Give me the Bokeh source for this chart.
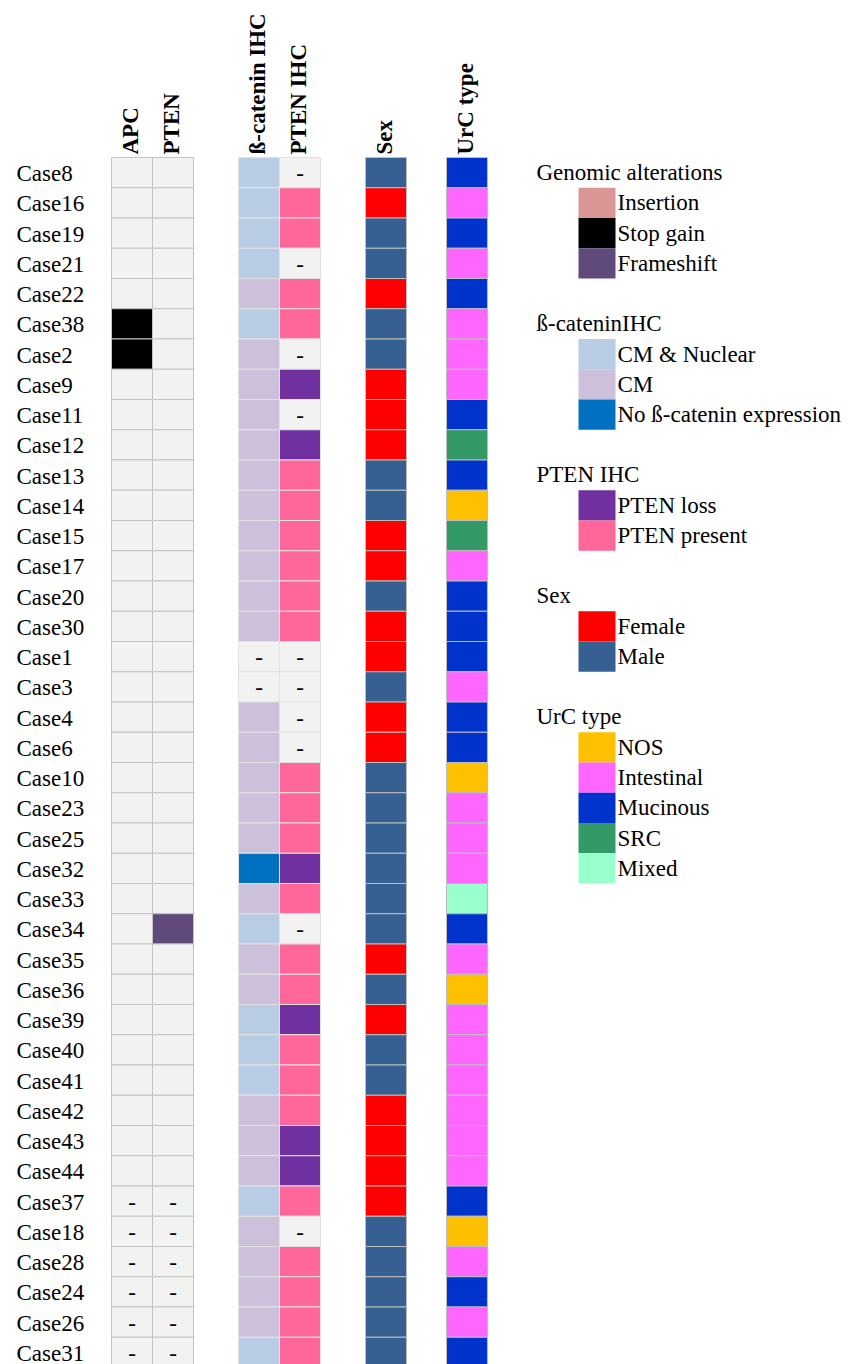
import math
from bokeh.plotting import figure
from bokeh.models import ColumnDataSource, Range1d
from bokeh.core.properties import value
from bokeh.embed import file_html
from bokeh.resources import INLINE

# ---------------- data ----------------
cases = ["Case8", "Case16", "Case19", "Case21", "Case22", "Case38", "Case2", "Case9",
         "Case11", "Case12", "Case13", "Case14", "Case15", "Case17", "Case20", "Case30",
         "Case1", "Case3", "Case4", "Case6", "Case10", "Case23", "Case25", "Case32",
         "Case33", "Case34", "Case35", "Case36", "Case39", "Case40", "Case41", "Case42",
         "Case43", "Case44", "Case37", "Case18", "Case28", "Case24", "Case26", "Case31"]

apc = ["", "", "", "", "", "Stop gain", "Stop gain", "", "", "", "", "", "", "", "", "",
       "", "", "", "", "", "", "", "", "", "", "", "", "", "", "", "", "", "",
       "-", "-", "-", "-", "-", "-"]
pten = ["", "", "", "", "", "", "", "", "", "", "", "", "", "", "", "",
        "", "", "", "", "", "", "", "", "", "Frameshift", "", "", "", "", "", "", "", "",
        "-", "-", "-", "-", "-", "-"]
bcat_ihc = ["CM & Nuclear", "CM & Nuclear", "CM & Nuclear", "CM & Nuclear", "CM",
            "CM & Nuclear", "CM", "CM", "CM", "CM", "CM", "CM", "CM", "CM", "CM", "CM",
            "-", "-", "CM", "CM", "CM", "CM", "CM", "No ß-catenin expression", "CM",
            "CM & Nuclear", "CM", "CM", "CM & Nuclear", "CM & Nuclear", "CM & Nuclear",
            "CM", "CM", "CM", "CM & Nuclear", "CM", "CM", "CM", "CM", "CM & Nuclear"]
pten_ihc = ["-", "PTEN present", "PTEN present", "-", "PTEN present", "PTEN present", "-",
            "PTEN loss", "-", "PTEN loss", "PTEN present", "PTEN present", "PTEN present",
            "PTEN present", "PTEN present", "PTEN present", "-", "-", "-", "-",
            "PTEN present", "PTEN present", "PTEN present", "PTEN loss", "PTEN present", "-",
            "PTEN present", "PTEN present", "PTEN loss", "PTEN present", "PTEN present",
            "PTEN present", "PTEN loss", "PTEN loss", "PTEN present", "-", "PTEN present",
            "PTEN present", "PTEN present", "PTEN present"]
sex = ["Male", "Female", "Male", "Male", "Female", "Male", "Male", "Female", "Female",
       "Female", "Male", "Male", "Female", "Female", "Male", "Female", "Female", "Male",
       "Female", "Female", "Male", "Male", "Male", "Male", "Male", "Male", "Female", "Male",
       "Female", "Male", "Male", "Female", "Female", "Female", "Female", "Male", "Male",
       "Male", "Male", "Male"]
urc_type = ["Mucinous", "Intestinal", "Mucinous", "Intestinal", "Mucinous", "Intestinal",
            "Intestinal", "Intestinal", "Mucinous", "SRC", "Mucinous", "NOS", "SRC",
            "Intestinal", "Mucinous", "Mucinous", "Mucinous", "Intestinal", "Mucinous",
            "Mucinous", "NOS", "Intestinal", "Intestinal", "Intestinal", "Mixed", "Mucinous",
            "Intestinal", "NOS", "Intestinal", "Intestinal", "Intestinal", "Intestinal",
            "Intestinal", "Intestinal", "Mucinous", "NOS", "Intestinal", "Mucinous",
            "Intestinal", "Mucinous"]

column_labels = ["APC", "PTEN", "ß-catenin IHC", "PTEN IHC", "Sex", "UrC type"]

legend_titles = ["Genomic alterations", "ß-cateninIHC", "PTEN IHC", "Sex", "UrC type"]
legend_items = [["Insertion", "Stop gain", "Frameshift"],
                ["CM & Nuclear", "CM", "No ß-catenin expression"],
                ["PTEN loss", "PTEN present"],
                ["Female", "Male"],
                ["NOS", "Intestinal", "Mucinous", "SRC", "Mixed"]]

# ---------------- styles ----------------
colors = {
    "": "#f2f2f2", "-": "#f2f2f2",
    "Insertion": "#da9694", "Stop gain": "#000000", "Frameshift": "#604a7b",
    "CM & Nuclear": "#b8cce4", "CM": "#ccc0da", "No ß-catenin expression": "#0070c0",
    "PTEN loss": "#7030a0", "PTEN present": "#ff6699",
    "Female": "#ff0000", "Male": "#366092",
    "NOS": "#ffc000", "Intestinal": "#ff66ff", "Mucinous": "#0033cc",
    "SRC": "#339966", "Mixed": "#99ffcc",
}
col_left = [111, 152, 238, 279, 365, 446]
col_w = 41
col_line = ["#c3c3c3", "#c3c3c3", "#e2e2e2", "#e2e2e2", "#bdbdbd", "#bdbdbd"]
FONT = value("Liberation Serif, Times New Roman, serif")
W, H = 850, 1364
ROW0, PITCH = 157.0, 30.25   # page pixels of first row top and row pitch

def row_val(page_y):
    return (page_y - ROW0) / PITCH - 0.5

p = figure(width=W, height=H, output_backend="svg", toolbar_location=None,
           x_range=Range1d(0, W), y_range=Range1d(row_val(H), row_val(0)),
           x_axis_location=None, y_axis_location=None, min_border=0,
           outline_line_color=None, background_fill_color="white")
p.xgrid.visible = False
p.ygrid.visible = False

n = len(cases)
rows = list(range(n))
columns = [apc, pten, bcat_ihc, pten_ihc, sex, urc_type]

for ci, vals in enumerate(columns):
    left = col_left[ci]
    src = ColumnDataSource(dict(
        left=[left] * n, right=[left + col_w] * n,
        top=[r - 0.5 for r in rows], bottom=[r + 0.5 for r in rows],
        color=[colors[v] for v in vals]))
    p.quad(left="left", right="right", top="top", bottom="bottom", source=src,
           fill_color="color", line_color=col_line[ci], line_width=1)
    dash_rows = [r for r, v in zip(rows, vals) if v == "-"]
    if dash_rows:
        p.text(x=[left + col_w / 2] * len(dash_rows), y=dash_rows, text=["-"] * len(dash_rows),
               text_font=FONT, text_font_size="23px", text_color="black",
               text_align="center", text_baseline="alphabetic", y_offset=1)
    # column header
    p.text(x=[left + col_w / 2 - 2], y=[-0.5], text=[column_labels[ci]], angle=math.pi / 2,
           text_font=FONT, text_font_size="23px", text_font_style="bold",
           text_color="black", text_align="left", text_baseline="alphabetic", y_offset=-3)

# row labels
p.text(x=[16] * n, y=rows, text=cases, text_font=FONT, text_font_size="23px",
       text_color="black", text_align="left", text_baseline="alphabetic", y_offset=1)

# legend
r = 0
for title, items in zip(legend_titles, legend_items):
    ys = [r + 1 + k for k in range(len(items))]
    p.quad(left=[578] * len(items), right=[615] * len(items),
           top=[y - 0.5 for y in ys], bottom=[y + 0.5 for y in ys],
           fill_color=[colors[it] for it in items], line_color=None)
    p.text(x=[536], y=[r], text=[title], text_font=FONT, text_font_size="23px",
           text_color="black", text_align="left", text_baseline="alphabetic", y_offset=-0.5)
    p.text(x=[617] * len(items), y=ys, text=items, text_font=FONT, text_font_size="23px",
           text_color="black", text_align="left", text_baseline="alphabetic", y_offset=0)
    r += len(items) + 2

open("out.html", "w").write(file_html(p, INLINE))
